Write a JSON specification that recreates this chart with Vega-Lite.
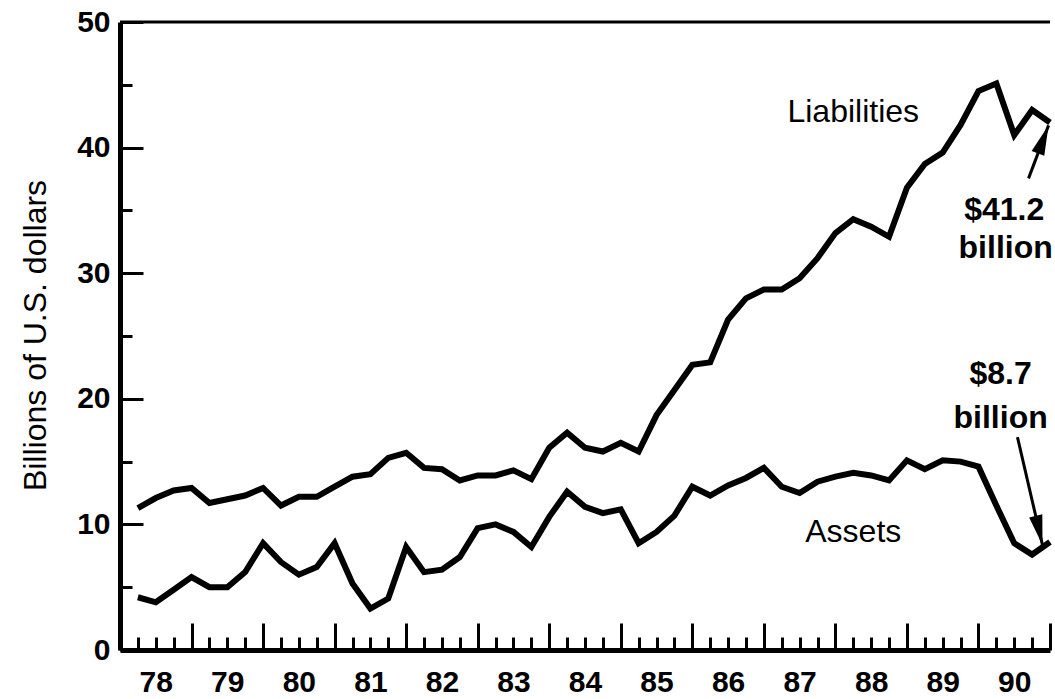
{
  "$schema": "https://vega.github.io/schema/vega-lite/v6.json",
  "width": 930,
  "height": 628,
  "autosize": {"type": "none"},
  "padding": {"left": 120, "top": 22, "right": 5, "bottom": 49},
  "background": "white",
  "config": {"view": {"stroke": null}, "font": "Liberation Sans"},
  "datasets": {
    "series": [
      {"t": 1978.25, "series": "Liabilities", "value": 11.3},
      {"t": 1978.5, "series": "Liabilities", "value": 12.1},
      {"t": 1978.75, "series": "Liabilities", "value": 12.7},
      {"t": 1979.0, "series": "Liabilities", "value": 12.9},
      {"t": 1979.25, "series": "Liabilities", "value": 11.7},
      {"t": 1979.5, "series": "Liabilities", "value": 12.0},
      {"t": 1979.75, "series": "Liabilities", "value": 12.3},
      {"t": 1980.0, "series": "Liabilities", "value": 12.9},
      {"t": 1980.25, "series": "Liabilities", "value": 11.5},
      {"t": 1980.5, "series": "Liabilities", "value": 12.2},
      {"t": 1980.75, "series": "Liabilities", "value": 12.2},
      {"t": 1981.0, "series": "Liabilities", "value": 13.0},
      {"t": 1981.25, "series": "Liabilities", "value": 13.8},
      {"t": 1981.5, "series": "Liabilities", "value": 14.0},
      {"t": 1981.75, "series": "Liabilities", "value": 15.3},
      {"t": 1982.0, "series": "Liabilities", "value": 15.7},
      {"t": 1982.25, "series": "Liabilities", "value": 14.5},
      {"t": 1982.5, "series": "Liabilities", "value": 14.4},
      {"t": 1982.75, "series": "Liabilities", "value": 13.5},
      {"t": 1983.0, "series": "Liabilities", "value": 13.9},
      {"t": 1983.25, "series": "Liabilities", "value": 13.9},
      {"t": 1983.5, "series": "Liabilities", "value": 14.3},
      {"t": 1983.75, "series": "Liabilities", "value": 13.6},
      {"t": 1984.0, "series": "Liabilities", "value": 16.1},
      {"t": 1984.25, "series": "Liabilities", "value": 17.3},
      {"t": 1984.5, "series": "Liabilities", "value": 16.1},
      {"t": 1984.75, "series": "Liabilities", "value": 15.8},
      {"t": 1985.0, "series": "Liabilities", "value": 16.5},
      {"t": 1985.25, "series": "Liabilities", "value": 15.8},
      {"t": 1985.5, "series": "Liabilities", "value": 18.7},
      {"t": 1985.75, "series": "Liabilities", "value": 20.7},
      {"t": 1986.0, "series": "Liabilities", "value": 22.7},
      {"t": 1986.25, "series": "Liabilities", "value": 22.9},
      {"t": 1986.5, "series": "Liabilities", "value": 26.3},
      {"t": 1986.75, "series": "Liabilities", "value": 28.0},
      {"t": 1987.0, "series": "Liabilities", "value": 28.7},
      {"t": 1987.25, "series": "Liabilities", "value": 28.7},
      {"t": 1987.5, "series": "Liabilities", "value": 29.6},
      {"t": 1987.75, "series": "Liabilities", "value": 31.2},
      {"t": 1988.0, "series": "Liabilities", "value": 33.2},
      {"t": 1988.25, "series": "Liabilities", "value": 34.3},
      {"t": 1988.5, "series": "Liabilities", "value": 33.7},
      {"t": 1988.75, "series": "Liabilities", "value": 32.9},
      {"t": 1989.0, "series": "Liabilities", "value": 36.8},
      {"t": 1989.25, "series": "Liabilities", "value": 38.7},
      {"t": 1989.5, "series": "Liabilities", "value": 39.6},
      {"t": 1989.75, "series": "Liabilities", "value": 41.8},
      {"t": 1990.0, "series": "Liabilities", "value": 44.5},
      {"t": 1990.25, "series": "Liabilities", "value": 45.1},
      {"t": 1990.5, "series": "Liabilities", "value": 41.0},
      {"t": 1990.75, "series": "Liabilities", "value": 43.0},
      {"t": 1991.0, "series": "Liabilities", "value": 42.0},
      {"t": 1978.25, "series": "Assets", "value": 4.2},
      {"t": 1978.5, "series": "Assets", "value": 3.8},
      {"t": 1978.75, "series": "Assets", "value": 4.8},
      {"t": 1979.0, "series": "Assets", "value": 5.8},
      {"t": 1979.25, "series": "Assets", "value": 5.0},
      {"t": 1979.5, "series": "Assets", "value": 5.0},
      {"t": 1979.75, "series": "Assets", "value": 6.2},
      {"t": 1980.0, "series": "Assets", "value": 8.5},
      {"t": 1980.25, "series": "Assets", "value": 7.0},
      {"t": 1980.5, "series": "Assets", "value": 6.0},
      {"t": 1980.75, "series": "Assets", "value": 6.6},
      {"t": 1981.0, "series": "Assets", "value": 8.5},
      {"t": 1981.25, "series": "Assets", "value": 5.3},
      {"t": 1981.5, "series": "Assets", "value": 3.3},
      {"t": 1981.75, "series": "Assets", "value": 4.1},
      {"t": 1982.0, "series": "Assets", "value": 8.2},
      {"t": 1982.25, "series": "Assets", "value": 6.2},
      {"t": 1982.5, "series": "Assets", "value": 6.4},
      {"t": 1982.75, "series": "Assets", "value": 7.4},
      {"t": 1983.0, "series": "Assets", "value": 9.7},
      {"t": 1983.25, "series": "Assets", "value": 10.0},
      {"t": 1983.5, "series": "Assets", "value": 9.4},
      {"t": 1983.75, "series": "Assets", "value": 8.2},
      {"t": 1984.0, "series": "Assets", "value": 10.6},
      {"t": 1984.25, "series": "Assets", "value": 12.6},
      {"t": 1984.5, "series": "Assets", "value": 11.4},
      {"t": 1984.75, "series": "Assets", "value": 10.9},
      {"t": 1985.0, "series": "Assets", "value": 11.2},
      {"t": 1985.25, "series": "Assets", "value": 8.5},
      {"t": 1985.5, "series": "Assets", "value": 9.4},
      {"t": 1985.75, "series": "Assets", "value": 10.7},
      {"t": 1986.0, "series": "Assets", "value": 13.0},
      {"t": 1986.25, "series": "Assets", "value": 12.3},
      {"t": 1986.5, "series": "Assets", "value": 13.1},
      {"t": 1986.75, "series": "Assets", "value": 13.7},
      {"t": 1987.0, "series": "Assets", "value": 14.5},
      {"t": 1987.25, "series": "Assets", "value": 13.0},
      {"t": 1987.5, "series": "Assets", "value": 12.5},
      {"t": 1987.75, "series": "Assets", "value": 13.4},
      {"t": 1988.0, "series": "Assets", "value": 13.8},
      {"t": 1988.25, "series": "Assets", "value": 14.1},
      {"t": 1988.5, "series": "Assets", "value": 13.9},
      {"t": 1988.75, "series": "Assets", "value": 13.5},
      {"t": 1989.0, "series": "Assets", "value": 15.1},
      {"t": 1989.25, "series": "Assets", "value": 14.4},
      {"t": 1989.5, "series": "Assets", "value": 15.1},
      {"t": 1989.75, "series": "Assets", "value": 15.0},
      {"t": 1990.0, "series": "Assets", "value": 14.6},
      {"t": 1990.25, "series": "Assets", "value": 11.5},
      {"t": 1990.5, "series": "Assets", "value": 8.5},
      {"t": 1990.75, "series": "Assets", "value": 7.6},
      {"t": 1991.0, "series": "Assets", "value": 8.6}
    ],
    "notes": [
      {"t": 1988.25, "value": 42.0, "text": "Liabilities", "kind": "name"},
      {"t": 1988.25, "value": 8.6, "text": "Assets", "kind": "name"},
      {"t": 1990.36, "value": 34.2, "text": "$41.2", "kind": "callout"},
      {"t": 1990.38, "value": 31.2, "text": "billion", "kind": "callout"},
      {"t": 1990.31, "value": 21.2, "text": "$8.7", "kind": "callout"},
      {"t": 1990.31, "value": 17.7, "text": "billion", "kind": "callout"}
    ],
    "arrows": [
      {"series": "Liabilities", "t": 1990.70, "value": 37.55, "t2": 1990.98, "value2": 41.77},
      {"series": "Assets", "t": 1990.545, "value": 16.95, "t2": 1990.895, "value2": 8.35}
    ]
  },
  "layer": [
    {
      "data": {"name": "series"},
      "mark": {"type": "line", "color": "black", "strokeWidth": 6, "strokeJoin": "miter", "strokeMiterLimit": 4},
      "encoding": {
        "x": {
          "field": "t",
          "type": "quantitative",
          "scale": {"domain": [1978, 1991], "nice": false, "zero": false},
          "axis": {
            "title": null,
            "grid": false,
            "tickCount": 100,
            "values": [1978, 1978.25, 1978.5, 1978.75, 1979, 1979.25, 1979.5, 1979.75, 1980, 1980.25, 1980.5, 1980.75, 1981, 1981.25, 1981.5, 1981.75, 1982, 1982.25, 1982.5, 1982.75, 1983, 1983.25, 1983.5, 1983.75, 1984, 1984.25, 1984.5, 1984.75, 1985, 1985.25, 1985.5, 1985.75, 1986, 1986.25, 1986.5, 1986.75, 1987, 1987.25, 1987.5, 1987.75, 1988, 1988.25, 1988.5, 1988.75, 1989, 1989.25, 1989.5, 1989.75, 1990, 1990.25, 1990.5, 1990.75, 1991],
            "domainColor": "black",
            "domainWidth": 5,
            "tickColor": "black",
            "tickWidth": 3,
            "tickSize": {"condition": {"test": "datum.value % 1 === 0", "value": -27}, "value": -13},
            "labelExpr": "datum.value % 1 === 0.5 ? format(floor(datum.value) % 100, 'd') : ''",
            "labelFont": "Liberation Sans",
            "labelFontSize": 30,
            "labelFontWeight": "bold",
            "labelColor": "black",
            "labelBaseline": "top",
            "labelPadding": 30,
            "labelOverlap": false,
            "labelFlush": false
          }
        },
        "y": {
          "field": "value",
          "type": "quantitative",
          "scale": {"domain": [0, 50], "nice": false},
          "axis": {
            "title": "Billions of U.S. dollars",
            "titleFont": "Liberation Sans",
            "titleFontSize": 32,
            "titleFontWeight": "normal",
            "titleColor": "black",
            "titleX": -75,
            "titleY": 313,
            "titleAngle": -90,
            "titleBaseline": "alphabetic",
            "titleAlign": "center",
            "grid": false,
            "tickCount": 100,
            "values": [0, 5, 10, 15, 20, 25, 30, 35, 40, 45, 50],
            "domainColor": "black",
            "domainWidth": 5,
            "tickColor": "black",
            "tickWidth": 3,
            "tickSize": {"condition": {"test": "datum.value % 10 === 0", "value": -23}, "value": -12},
            "labelExpr": "datum.value % 10 === 0 ? format(datum.value, 'd') : ''",
            "labelFont": "Liberation Sans",
            "labelFontSize": 30,
            "labelFontWeight": "bold",
            "labelColor": "black",
            "labelBaseline": "middle",
            "labelPadding": 33,
            "labelOverlap": false,
            "labelFlush": false
          }
        },
        "detail": {"field": "series"}
      }
    },
    {
      "data": {"values": [{}]},
      "mark": {"type": "rule", "color": "black", "strokeWidth": 3},
      "encoding": {"y": {"datum": 50}}
    },
    {
      "data": {"name": "notes"},
      "transform": [{"filter": "datum.kind === 'name'"}],
      "mark": {"type": "text", "font": "Liberation Sans", "fontSize": 32, "fontWeight": "normal", "color": "black", "align": "center", "baseline": "alphabetic"},
      "encoding": {
        "x": {"field": "t", "type": "quantitative"},
        "y": {"field": "value", "type": "quantitative"},
        "text": {"field": "text"}
      }
    },
    {
      "data": {"name": "notes"},
      "transform": [{"filter": "datum.kind === 'callout'"}],
      "mark": {"type": "text", "font": "Liberation Sans", "fontSize": 32, "fontWeight": "bold", "color": "black", "align": "center", "baseline": "alphabetic"},
      "encoding": {
        "x": {"field": "t", "type": "quantitative"},
        "y": {"field": "value", "type": "quantitative"},
        "text": {"field": "text"}
      }
    },
    {
      "data": {"name": "arrows"},
      "mark": {"type": "rule", "color": "black", "strokeWidth": 3},
      "encoding": {
        "x": {"field": "t", "type": "quantitative"},
        "x2": {"field": "t2"},
        "y": {"field": "value", "type": "quantitative"},
        "y2": {"field": "value2"}
      }
    },
    {
      "data": {"name": "arrows"},
      "transform": [{"filter": "datum.series === 'Liabilities'"}],
      "mark": {"type": "point", "shape": "M0,0L0.45,2L-0.45,2Z", "filled": true, "color": "black", "opacity": 1, "size": 900, "angle": 20.7, "strokeWidth": 0},
      "encoding": {
        "x": {"field": "t2", "type": "quantitative"},
        "y": {"field": "value2", "type": "quantitative"}
      }
    },
    {
      "data": {"name": "arrows"},
      "transform": [{"filter": "datum.series === 'Assets'"}],
      "mark": {"type": "point", "shape": "M0,0L0.45,2L-0.45,2Z", "filled": true, "color": "black", "opacity": 1, "size": 900, "angle": 167, "strokeWidth": 0},
      "encoding": {
        "x": {"field": "t2", "type": "quantitative"},
        "y": {"field": "value2", "type": "quantitative"}
      }
    }
  ]
}
